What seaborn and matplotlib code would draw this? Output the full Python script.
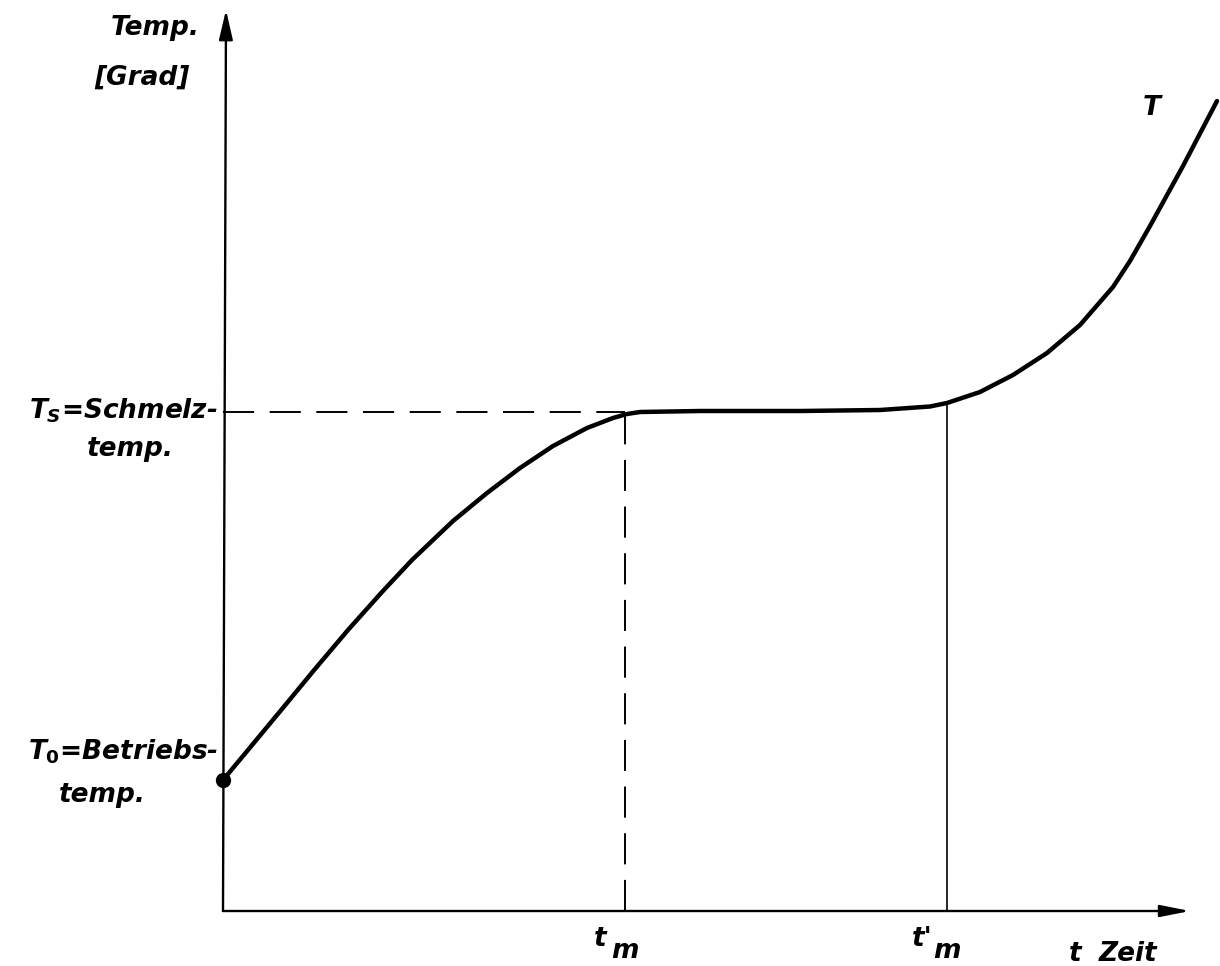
import matplotlib
matplotlib.use("Agg")
import matplotlib.pyplot as plt
import seaborn as sns
import pandas as pd

# time / temperature readings of the curve T (arbitrary units)
zeit = [0.0, 0.25, 0.59, 0.92, 1.25, 1.59, 1.89, 2.30, 2.64, 2.97, 3.30,
        3.64, 3.90, 4.04, 4.17, 4.77, 5.77, 6.57, 7.07, 7.24, 7.57, 7.90,
        8.24, 8.57, 8.90, 9.07, 9.27, 9.60, 9.94]
temp = [1.31, 1.61, 2.02, 2.42, 2.81, 3.19, 3.51, 3.90, 4.18, 4.43, 4.65,
        4.83, 4.93, 4.97, 4.99, 5.00, 5.00, 5.01, 5.045, 5.08, 5.19, 5.36,
        5.58, 5.86, 6.24, 6.50, 6.85, 7.45, 8.10]

T_0 = 1.31       # Betriebstemperatur
T_S = 4.99       # Schmelztemperatur
t_m = 4.02
t_m_strich = 7.24

df = pd.DataFrame({"t": zeit, "T": temp})

sns.set_theme(style="white")
plt.rcParams["font.family"] = ["DejaVu Sans"]
plt.rcParams["mathtext.fontset"] = "custom"
plt.rcParams["mathtext.it"] = "DejaVu Sans:italic:bold"
plt.rcParams["mathtext.rm"] = "DejaVu Sans:bold"
plt.rcParams["mathtext.default"] = "it"

fig = plt.figure(figsize=(12.2, 9.66), dpi=100)
ax = fig.add_axes([0, 0, 1, 1])
ax.set_xlim(-2.23, 9.97)
ax.set_ylim(-0.55, 9.11)
ax.axis("off")

sns.lineplot(data=df, x="t", y="T", ax=ax, color="black", lw=3.2, sort=False,
             solid_joinstyle="round", solid_capstyle="round")
ax.plot([0], [T_0], "o", color="black", ms=10)

# axes with arrows
ax.annotate("", xy=(0.03, 9.01), xytext=(0, 0),
            arrowprops=dict(arrowstyle="-|>,head_length=1.5,head_width=0.35",
                            color="black", lw=1.7, shrinkA=0, shrinkB=0))
ax.annotate("", xy=(9.67, 0), xytext=(0, 0),
            arrowprops=dict(arrowstyle="-|>,head_length=1.5,head_width=0.3",
                            color="black", lw=1.7, shrinkA=0, shrinkB=0))

# guide lines
ax.plot([0, t_m], [T_S, T_S], color="black", lw=1.4, dashes=(16, 8))
ax.plot([t_m, t_m], [0, T_S], color="black", lw=1.4, dashes=(16, 8))
ax.plot([t_m_strich, t_m_strich], [0, 5.08], color="black", lw=1.2)

fs = 19
kw = dict(color="black", fontsize=fs, fontstyle="italic", fontweight="bold")
ax.text(-0.23, 8.83, "Temp.", ha="right", va="center", **kw)
ax.text(-0.815, 8.33, "[Grad]", ha="center", va="center", **kw)
ax.text(-0.05, 5.0, r"$T_S$=Schmelz-", ha="right", va="center", **kw)
ax.text(-0.93, 4.62, "temp.", ha="center", va="center", **kw)
ax.text(-0.05, 1.59, r"$T_0$=Betriebs-", ha="right", va="center", **kw)
ax.text(-1.21, 1.16, "temp.", ha="center", va="center", **kw)
ax.text(9.29, 8.03, "T", ha="center", va="center", **kw)

ax.text(t_m - 0.25, -0.28, "t", ha="center", va="center", **kw)
ax.text(t_m, -0.40, "m", ha="center", va="center", **kw)
ax.text(t_m_strich - 0.25, -0.28, "t'", ha="center", va="center", **kw)
ax.text(t_m_strich, -0.40, "m", ha="center", va="center", **kw)
ax.text(8.52, -0.43, "t", ha="center", va="center", **kw)
ax.text(9.05, -0.43, "Zeit", ha="center", va="center", **kw)

fig.savefig("out.png", dpi=100, facecolor="white")
